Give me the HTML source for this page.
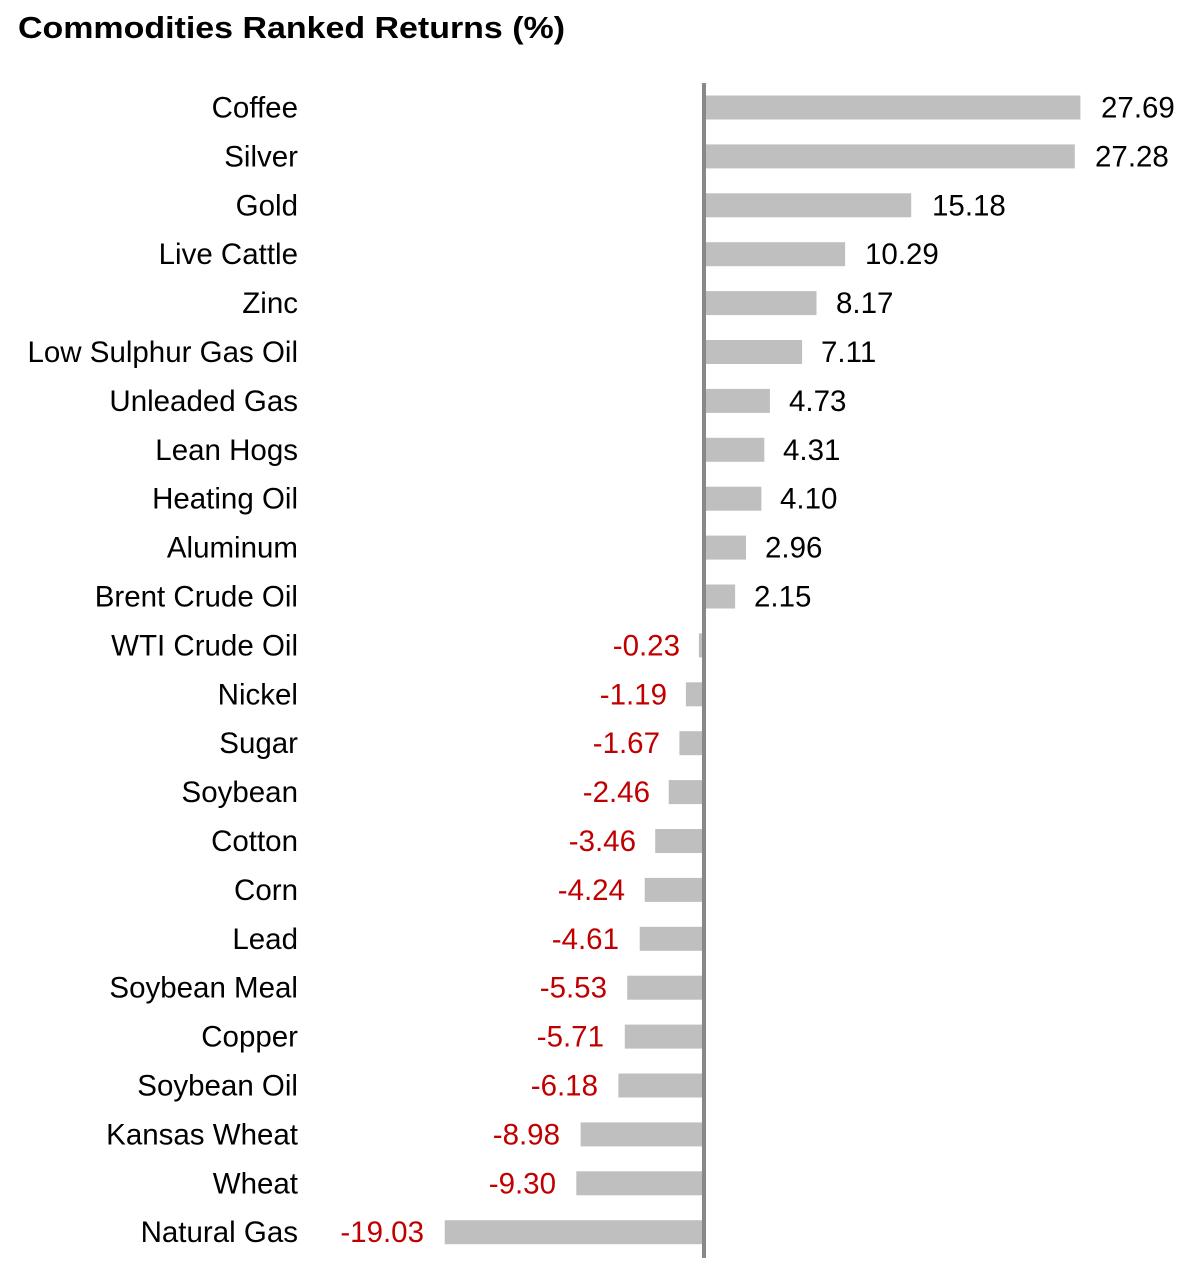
<!DOCTYPE html>
<html><head><meta charset="utf-8"><style>
html,body{margin:0;padding:0;background:#fff;width:1187px;height:1276px;overflow:hidden}
text{font-family:"Liberation Sans",sans-serif;font-size:29.5px;fill:#000}
.l{text-anchor:end}
.n{fill:#c00000;text-anchor:end}
rect{fill:#bfbfbf}
</style></head><body>
<svg width="1187" height="1276" xmlns="http://www.w3.org/2000/svg">
<text x="18" y="38" style="font-size:31px;font-weight:bold" textLength="547" lengthAdjust="spacingAndGlyphs">Commodities Ranked Returns (%)</text>
<g>
<rect x="706" y="95.5" width="374.4" height="24"/><text class="l" x="298" y="117.5">Coffee</text><text x="1101" y="117.5">27.69</text>
<rect x="706" y="144.4" width="368.8" height="24"/><text class="l" x="298" y="166.4">Silver</text><text x="1095" y="166.4">27.28</text>
<rect x="706" y="193.3" width="205.2" height="24"/><text class="l" x="298" y="215.3">Gold</text><text x="932" y="215.3">15.18</text>
<rect x="706" y="242.2" width="139.1" height="24"/><text class="l" x="298" y="264.2">Live Cattle</text><text x="865" y="264.2">10.29</text>
<rect x="706" y="291.1" width="110.5" height="24"/><text class="l" x="298" y="313.1">Zinc</text><text x="836" y="313.1">8.17</text>
<rect x="706" y="340" width="96.1" height="24"/><text class="l" x="298" y="362">Low Sulphur Gas Oil</text><text x="821" y="362">7.11</text>
<rect x="706" y="388.9" width="63.9" height="24"/><text class="l" x="298" y="410.9">Unleaded Gas</text><text x="789" y="410.9">4.73</text>
<rect x="706" y="437.8" width="58.3" height="24"/><text class="l" x="298" y="459.8">Lean Hogs</text><text x="783" y="459.8">4.31</text>
<rect x="706" y="486.7" width="55.4" height="24"/><text class="l" x="298" y="508.7">Heating Oil</text><text x="780" y="508.7">4.10</text>
<rect x="706" y="535.6" width="40" height="24"/><text class="l" x="298" y="557.6">Aluminum</text><text x="765" y="557.6">2.96</text>
<rect x="706" y="584.5" width="29.1" height="24"/><text class="l" x="298" y="606.5">Brent Crude Oil</text><text x="754" y="606.5">2.15</text>
<rect x="698.9" y="633.4" width="3.1" height="24"/><text class="l" x="298" y="655.4">WTI Crude Oil</text><text class="n" x="680" y="655.4">-0.23</text>
<rect x="685.9" y="682.3" width="16.1" height="24"/><text class="l" x="298" y="704.3">Nickel</text><text class="n" x="667" y="704.3">-1.19</text>
<rect x="679.4" y="731.2" width="22.6" height="24"/><text class="l" x="298" y="753.2">Sugar</text><text class="n" x="660" y="753.2">-1.67</text>
<rect x="668.7" y="780.1" width="33.3" height="24"/><text class="l" x="298" y="802.1">Soybean</text><text class="n" x="650" y="802.1">-2.46</text>
<rect x="655.2" y="829" width="46.8" height="24"/><text class="l" x="298" y="851">Cotton</text><text class="n" x="636" y="851">-3.46</text>
<rect x="644.7" y="877.9" width="57.3" height="24"/><text class="l" x="298" y="899.9">Corn</text><text class="n" x="625" y="899.9">-4.24</text>
<rect x="639.7" y="926.8" width="62.3" height="24"/><text class="l" x="298" y="948.8">Lead</text><text class="n" x="619" y="948.8">-4.61</text>
<rect x="627.2" y="975.7" width="74.8" height="24"/><text class="l" x="298" y="997.7">Soybean Meal</text><text class="n" x="607" y="997.7">-5.53</text>
<rect x="624.8" y="1024.6" width="77.2" height="24"/><text class="l" x="298" y="1046.6">Copper</text><text class="n" x="604" y="1046.6">-5.71</text>
<rect x="618.4" y="1073.5" width="83.6" height="24"/><text class="l" x="298" y="1095.5">Soybean Oil</text><text class="n" x="598" y="1095.5">-6.18</text>
<rect x="580.6" y="1122.4" width="121.4" height="24"/><text class="l" x="298" y="1144.4">Kansas Wheat</text><text class="n" x="560" y="1144.4">-8.98</text>
<rect x="576.3" y="1171.3" width="125.7" height="24"/><text class="l" x="298" y="1193.3">Wheat</text><text class="n" x="556" y="1193.3">-9.30</text>
<rect x="444.7" y="1220.2" width="257.3" height="24"/><text class="l" x="298" y="1242.2">Natural Gas</text><text class="n" x="424" y="1242.2">-19.03</text>
</g>
<line x1="704" y1="83" x2="704" y2="1258" stroke="#888" stroke-width="4"/>
</svg>
</body></html>
